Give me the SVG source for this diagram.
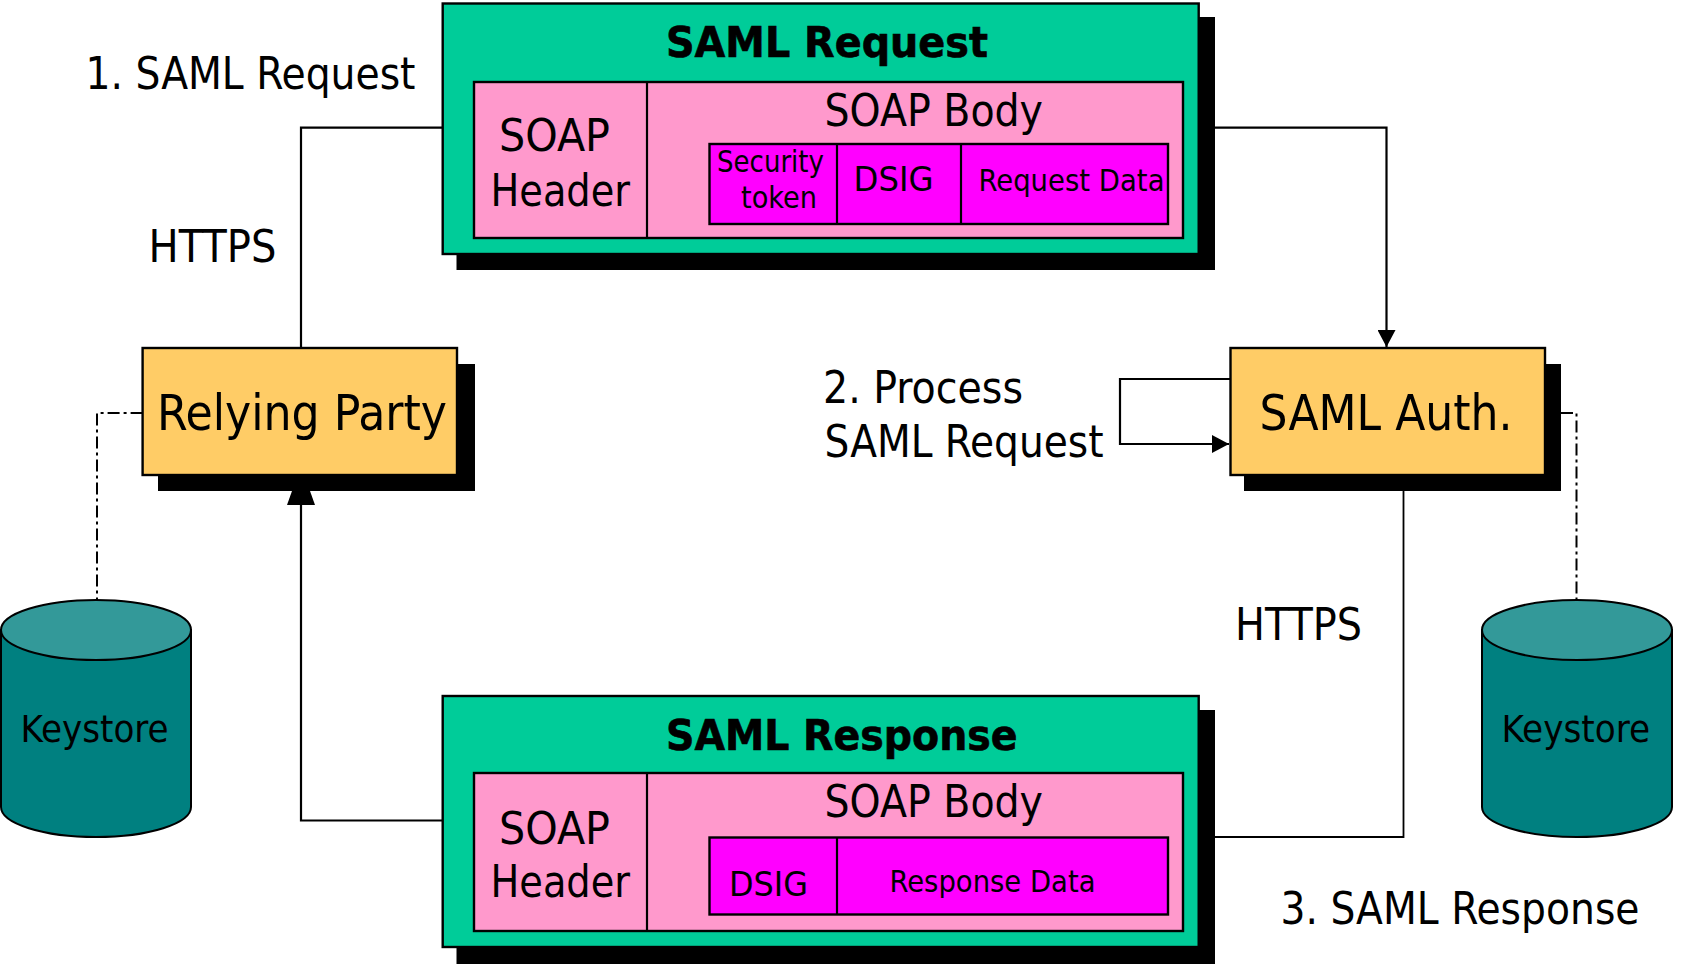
<svg xmlns="http://www.w3.org/2000/svg" width="1688" height="964" viewBox="0 0 1688 964">
<style>
text{font-family:"DejaVu Sans Condensed","DejaVu Sans","Liberation Sans",sans-serif;fill:#000}
.b{stroke:#000;stroke-width:2.4}
.sh{fill:#000}
.g{fill:#00CC99}
.p{fill:#FF99CC}
.m{fill:#FF00FF}
.y{fill:#FFCC66}
.c{fill:none;stroke:#000;stroke-width:2.2}
.d{fill:none;stroke:#000;stroke-width:2;stroke-dasharray:12 4 3 4}
.l{font-size:44px}
.t{font-size:43px;font-weight:700;stroke:#000;stroke-width:.6}
.s{font-size:30px}
.k{font-size:37px}
.n{font-size:49px}
.cy{fill:#008080;stroke:#000;stroke-width:2}
.ct{fill:#339999;stroke:#000;stroke-width:2}
</style>
<defs>
<marker id="a" markerUnits="userSpaceOnUse" markerWidth="18" markerHeight="18" refX="17" refY="9" orient="auto"><path d="M0 0L17 9L0 18Z" fill="#000"/></marker>
<marker id="a2" markerUnits="userSpaceOnUse" markerWidth="15" markerHeight="28" refX="14" refY="14" orient="auto"><path d="M0 0L14 5L14 23L0 28Z" fill="#000"/></marker>
</defs>
<g id="connectors">
<path class="c" d="M442.7 127.7H301V348"/>
<path class="c" d="M1215 127.7H1386.5V347" marker-end="url(#a)"/>
<path class="c" d="M1230.5 379H1120V444H1229" marker-end="url(#a)"/>
<path class="c" d="M442.7 820.5H301V491" marker-end="url(#a2)"/>
<path class="c" style="stroke-width:1.8" d="M1215 837H1403.5V491"/>
<path class="d" d="M142.6 413H97V600"/>
<path class="d" d="M1561 413H1576.5V599"/>
</g>
<g id="saml-request">
<rect class="sh" x="456.5" y="17" width="758.5" height="253"/>
<rect class="g b" x="442.7" y="3.5" width="756" height="250.5"/>
<rect class="p b" x="474" y="82" width="709" height="156"/>
<path class="c" d="M647 82V238"/>
<rect class="m b" x="709.5" y="144" width="458.5" height="80"/>
<path class="c" d="M837 144V224M961 144V224"/>
<text class="t" x="666" y="57.2" textLength="322" lengthAdjust="spacingAndGlyphs">SAML Request</text>
<text class="l" x="499" y="151" textLength="111" lengthAdjust="spacingAndGlyphs">SOAP</text>
<text class="l" x="490.5" y="205.7" textLength="139.5" lengthAdjust="spacingAndGlyphs">Header</text>
<text class="l" x="824.5" y="126" textLength="218.5" lengthAdjust="spacingAndGlyphs">SOAP Body</text>
<text class="s" x="717" y="172" textLength="107" lengthAdjust="spacingAndGlyphs">Security</text>
<text class="s" x="741" y="208" textLength="76" lengthAdjust="spacingAndGlyphs">token</text>
<text class="s" style="font-size:33px" x="853.5" y="191" textLength="80" lengthAdjust="spacingAndGlyphs">DSIG</text>
<text class="s" x="978.5" y="191" textLength="186" lengthAdjust="spacingAndGlyphs">Request Data</text>
</g>
<g id="saml-response">
<rect class="sh" x="456.5" y="710" width="758.5" height="254"/>
<rect class="g b" x="442.7" y="696" width="756" height="251"/>
<rect class="p b" x="474" y="773" width="709" height="158"/>
<path class="c" d="M647 773V931"/>
<rect class="m b" x="709.5" y="837.5" width="458.5" height="77"/>
<path class="c" d="M837 837.5V914.5"/>
<text class="t" x="666" y="749.5" textLength="351.5" lengthAdjust="spacingAndGlyphs">SAML Response</text>
<text class="l" x="499" y="844" textLength="111" lengthAdjust="spacingAndGlyphs">SOAP</text>
<text class="l" x="490.5" y="897" textLength="139.5" lengthAdjust="spacingAndGlyphs">Header</text>
<text class="l" x="824.5" y="817" textLength="218.5" lengthAdjust="spacingAndGlyphs">SOAP Body</text>
<text class="s" style="font-size:33px" x="729" y="896" textLength="79" lengthAdjust="spacingAndGlyphs">DSIG</text>
<text class="s" x="889.5" y="892" textLength="206" lengthAdjust="spacingAndGlyphs">Response Data</text>
</g>
<g id="relying-party">
<rect class="sh" x="158" y="364" width="317" height="127"/>
<rect class="y b" x="142.6" y="348" width="314.4" height="127"/>
<text class="n" x="157" y="430" textLength="290" lengthAdjust="spacingAndGlyphs">Relying Party</text>
</g>
<g id="saml-auth">
<rect class="sh" x="1244" y="364" width="317" height="127"/>
<rect class="y b" x="1230.5" y="348" width="314.5" height="127"/>
<text class="n" x="1259.5" y="430" textLength="253" lengthAdjust="spacingAndGlyphs">SAML Auth.</text>
</g>
<g id="keystore-left">
<path class="cy" d="M1 630V807A95 30 0 0 0 191 807V630Z"/>
<ellipse class="ct" cx="96" cy="630" rx="95" ry="30"/>
<text class="k" x="20.5" y="742" textLength="148" lengthAdjust="spacingAndGlyphs">Keystore</text>
</g>
<g id="keystore-right">
<path class="cy" d="M1482 630V807A95 30 0 0 0 1672 807V630Z"/>
<ellipse class="ct" cx="1577" cy="630" rx="95" ry="30"/>
<text class="k" x="1501.5" y="742" textLength="148.5" lengthAdjust="spacingAndGlyphs">Keystore</text>
</g>
<g id="labels">
<text class="l" x="85.5" y="89" textLength="330" lengthAdjust="spacingAndGlyphs">1. SAML Request</text>
<text class="l" x="148.5" y="262" textLength="128" lengthAdjust="spacingAndGlyphs">HTTPS</text>
<text class="l" x="823" y="403" textLength="200" lengthAdjust="spacingAndGlyphs">2. Process</text>
<text class="l" x="824.5" y="456.7" textLength="279" lengthAdjust="spacingAndGlyphs">SAML Request</text>
<text class="l" x="1235" y="640" textLength="127" lengthAdjust="spacingAndGlyphs">HTTPS</text>
<text class="l" x="1280.5" y="923.7" textLength="359" lengthAdjust="spacingAndGlyphs">3. SAML Response</text>
</g>
</svg>
